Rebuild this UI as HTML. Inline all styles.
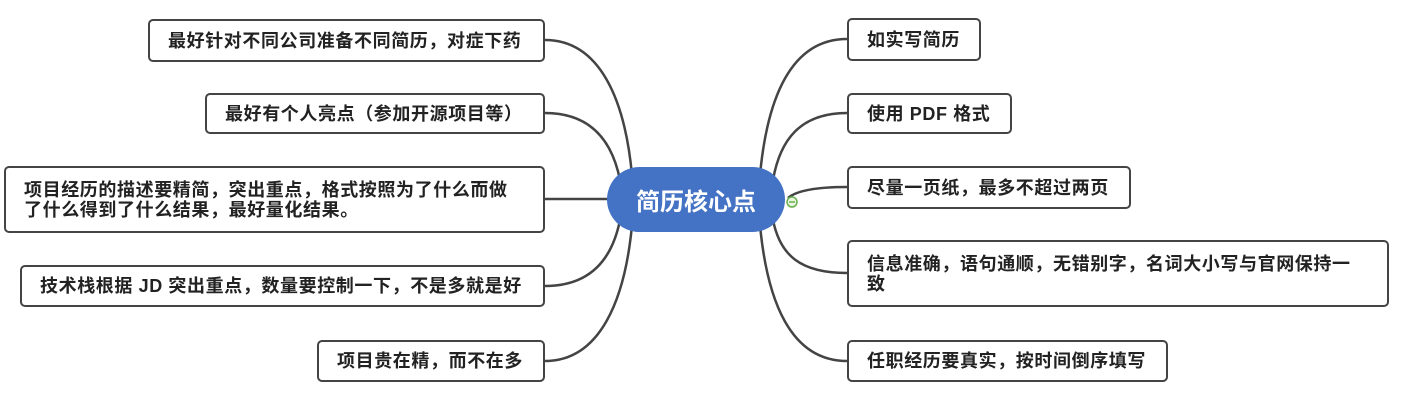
<!DOCTYPE html>
<html><head><meta charset="utf-8"><style>
body{margin:0;width:1404px;height:410px;background:#fff;position:relative;overflow:hidden;font-family:"Liberation Sans","Noto Sans CJK SC",sans-serif}
.b{position:absolute;box-sizing:border-box;border:2px solid #444;border-radius:5px;background:#fff;font-weight:bold;font-size:18px;letter-spacing:0.6px;color:#222;padding:0 18px;display:flex;align-items:center;line-height:20px}
.c{position:absolute;left:607px;top:167px;width:178px;height:65px;border-radius:33px;background:#4472c4;color:#fff;font-size:24px;font-weight:bold;display:flex;align-items:center;justify-content:center}
</style></head><body>
<svg width="1404" height="410" style="position:absolute;left:0;top:0" fill="none" stroke="#444" stroke-width="2.5">
<path d="M545 40 C600 40 625 100 632 175"/>
<path d="M545 113 C590 113 612 140 620 180"/>
<path d="M545 199 L610 199"/>
<path d="M545 286 C590 286 612 260 620 220"/>
<path d="M545 361 C600 361 625 300 632 225"/>
<path d="M847 39 C790 39 767 100 760 175"/>
<path d="M847 113 C800 113 780 140 773 180"/>
<path d="M847 187 C810 187 795 192 788 198"/>
<path d="M847 273 C800 273 780 255 773 220"/>
<path d="M847 361 C790 361 767 300 760 225"/>
</svg>
<div class="c">简历核心点</div>
<svg width="14" height="14" style="position:absolute;left:785px;top:195px"><circle cx="7" cy="7" r="5" fill="#e8f5e0" stroke="#6ab04c" stroke-width="1.5"/><line x1="4" y1="7" x2="10" y2="7" stroke="#6ab04c" stroke-width="1.5"/></svg>
<div class="b" style="left:148px;top:19px;width:397px;height:43px">最好针对不同公司准备不同简历，对症下药</div>
<div class="b" style="left:205px;top:93px;width:340px;height:41px">最好有个人亮点（参加开源项目等）</div>
<div class="b" style="left:4px;top:166px;width:541px;height:67px">项目经历的描述要精简，突出重点，格式按照为了什么而做了什么得到了什么结果，最好量化结果。</div>
<div class="b" style="left:20px;top:265px;width:525px;height:42px">技术栈根据 JD 突出重点，数量要控制一下，不是多就是好</div>
<div class="b" style="left:317px;top:340px;width:228px;height:42px">项目贵在精，而不在多</div>
<div class="b" style="left:847px;top:18px;width:134px;height:43px">如实写简历</div>
<div class="b" style="left:847px;top:93px;width:165px;height:41px">使用 PDF 格式</div>
<div class="b" style="left:847px;top:166px;width:284px;height:43px">尽量一页纸，最多不超过两页</div>
<div class="b" style="left:847px;top:240px;width:542px;height:67px">信息准确，语句通顺，无错别字，名词大小写与官网保持一致</div>
<div class="b" style="left:847px;top:340px;width:321px;height:42px">任职经历要真实，按时间倒序填写</div>
</body></html>
